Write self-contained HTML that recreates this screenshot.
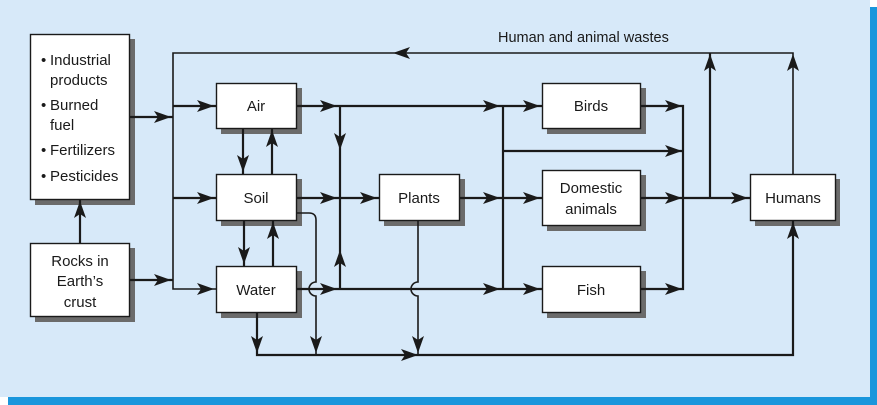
<!DOCTYPE html>
<html><head><meta charset="utf-8"><style>
html,body{margin:0;padding:0;background:#fff}
svg{display:block}
text{font-family:"Liberation Sans",sans-serif;fill:#1a1a1a}
</style></head><body>
<svg width="877" height="405" viewBox="0 0 877 405" xmlns="http://www.w3.org/2000/svg">
<defs>
<polygon id="a" points="0,0 -17,-6 -13,0 -17,6" fill="#1a1a1a"/>
</defs>
<rect x="0" y="0" width="877" height="405" fill="#fff"/>
<rect x="0" y="0" width="870" height="397" fill="#d7e9f9"/>
<rect x="8" y="397" width="869" height="8" fill="#1a96dc"/>
<rect x="870" y="7" width="7" height="398" fill="#1a96dc"/>

<g fill="#6b6b6b">
<rect x="35" y="39" width="100" height="166"/>
<rect x="35" y="248" width="100" height="74"/>
<rect x="221" y="88" width="81" height="46"/>
<rect x="221" y="179" width="81" height="47"/>
<rect x="221" y="271" width="81" height="47"/>
<rect x="384" y="179" width="81" height="47"/>
<rect x="547" y="88" width="99" height="46"/>
<rect x="547" y="175" width="99" height="56"/>
<rect x="547" y="271" width="99" height="47"/>
<rect x="755" y="179" width="85" height="47"/>
</g>

<g stroke="#1a1a1a" fill="none" stroke-width="2.2">
<path d="M793,174 V53 H173 V289 H216" stroke-width="1.6"/>
<path d="M710,198 V53" />
<path d="M296,213 H309 Q316,213 316,220 V282 A7,7 0 0 0 316,296 V355" stroke-width="1.6"/>
<path d="M418,220 V282 A7,7 0 0 0 418,296 V355" stroke-width="1.6"/>
<path d="M173,106 H216 M173,198 H216"/>
<path d="M129,117 H173 M129,280 H173"/>
<path d="M80,243 V199"/>
<path d="M296,106 H503 M296,198 H379 M296,289 H542"/>
<path d="M340,106 V289"/>
<path d="M243,128 V174 M272,128 V174 M244,220 V266 M273,220 V266"/>
<path d="M257,312 V355 H793 V220"/>
<path d="M459,198 H750"/>
<path d="M503,106 V289 M503,106 H542 M503,151 H683"/>
<path d="M640,106 H683 V289 H640"/>
</g>

<g>
<use href="#a" transform="translate(393,53) rotate(180)"/>
<use href="#a" transform="translate(793,54) rotate(-90)"/>
<use href="#a" transform="translate(710,54) rotate(-90)"/>
<use href="#a" transform="translate(171,117)"/>
<use href="#a" transform="translate(171,280)"/>
<use href="#a" transform="translate(80,201) rotate(-90)"/>
<use href="#a" transform="translate(214,106)"/>
<use href="#a" transform="translate(214,198)"/>
<use href="#a" transform="translate(214,289)"/>
<use href="#a" transform="translate(243,172) rotate(90)"/>
<use href="#a" transform="translate(272,130) rotate(-90)"/>
<use href="#a" transform="translate(244,264) rotate(90)"/>
<use href="#a" transform="translate(273,222) rotate(-90)"/>
<use href="#a" transform="translate(337,106)"/>
<use href="#a" transform="translate(337,198)"/>
<use href="#a" transform="translate(337,289)"/>
<use href="#a" transform="translate(377,198)"/>
<use href="#a" transform="translate(340,150) rotate(90)"/>
<use href="#a" transform="translate(340,250) rotate(-90)"/>
<use href="#a" transform="translate(316,353) rotate(90)"/>
<use href="#a" transform="translate(418,353) rotate(90)"/>
<use href="#a" transform="translate(257,353) rotate(90)"/>
<use href="#a" transform="translate(418,355)"/>
<use href="#a" transform="translate(793,222) rotate(-90)"/>
<use href="#a" transform="translate(500,106)"/>
<use href="#a" transform="translate(500,198)"/>
<use href="#a" transform="translate(500,289)"/>
<use href="#a" transform="translate(540,106)"/>
<use href="#a" transform="translate(540,198)"/>
<use href="#a" transform="translate(540,289)"/>
<use href="#a" transform="translate(682,106)"/>
<use href="#a" transform="translate(682,151)"/>
<use href="#a" transform="translate(682,198)"/>
<use href="#a" transform="translate(682,289)"/>
<use href="#a" transform="translate(748,198)"/>
</g>

<g fill="#fff" stroke="#1a1a1a" stroke-width="1.4">
<rect x="30.5" y="34.5" width="99" height="165"/>
<rect x="30.5" y="243.5" width="99" height="73"/>
<rect x="216.5" y="83.5" width="80" height="45"/>
<rect x="216.5" y="174.5" width="80" height="46"/>
<rect x="216.5" y="266.5" width="80" height="46"/>
<rect x="379.5" y="174.5" width="80" height="46"/>
<rect x="542.5" y="83.5" width="98" height="45"/>
<rect x="542.5" y="170.5" width="98" height="55"/>
<rect x="542.5" y="266.5" width="98" height="46"/>
<rect x="750.5" y="174.5" width="85" height="46"/>
</g>

<g font-size="15">
<text x="41" y="65">•</text><text x="50" y="65">Industrial</text>
<text x="50" y="85">products</text>
<text x="41" y="110">•</text><text x="50" y="110">Burned</text>
<text x="50" y="130">fuel</text>
<text x="41" y="155">•</text><text x="50" y="155">Fertilizers</text>
<text x="41" y="181">•</text><text x="50" y="181">Pesticides</text>
<g text-anchor="middle">
<text x="80" y="266">Rocks in</text>
<text x="80" y="286">Earth’s</text>
<text x="80" y="307">crust</text>
<text x="256" y="111">Air</text>
<text x="256" y="203">Soil</text>
<text x="256" y="295">Water</text>
<text x="419" y="203">Plants</text>
<text x="591" y="111">Birds</text>
<text x="591" y="193">Domestic</text>
<text x="591" y="214">animals</text>
<text x="591" y="295">Fish</text>
<text x="793" y="203">Humans</text>
</g>
<text x="498" y="42" font-size="14.5">Human and animal wastes</text>
</g>
</svg>
</body></html>
